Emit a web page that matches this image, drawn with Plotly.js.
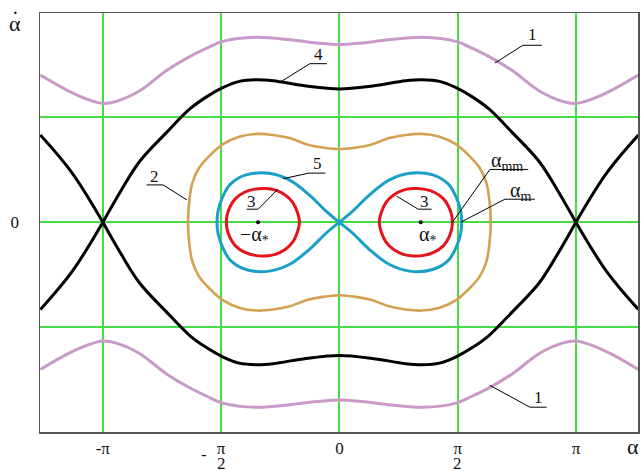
<!DOCTYPE html>
<html>
<head>
<meta charset="utf-8">
<script src="https://cdn.plot.ly/plotly-3.0.1.min.js"></script>
<style>html,body{margin:0;padding:0;background:#fff}</style>
</head>
<body>
<div id="chart" style="width:641px;height:471px"></div>
<script>
const PI = Math.PI;

// Axis ticks (the π/2 labels are drawn as fractions: numerator on the tick, denominator below)
const xTickVals = [-PI, -PI / 2, 0, PI / 2, PI];
const xTickText = ['-π', 'π', '0', 'π', 'π'];
const xTickSign = ['', '-', '', '', ''];
const xTickDen = ['', '2', '', '2', ''];
const yTickVals = [0];
const yTickText = ['0'];
const yGridVals = [-1, 1];

// Curve 1: rotational orbits (upper branch, α̇ > 0)
const c1X = [-3.97, -3.6, -3.31, -3.14, -2.96, -2.65, -2.3, -2.0, -1.76, -1.55, -1.1, -0.65, -0.3, 0, 0.3, 0.65, 1.1, 1.55, 1.76, 2.0, 2.3, 2.65, 2.96, 3.14, 3.31, 3.6, 3.97];
const c1Y = [1.40, 1.25, 1.16, 1.13, 1.15, 1.25, 1.44, 1.57, 1.655, 1.72, 1.76, 1.735, 1.705, 1.69, 1.705, 1.735, 1.76, 1.72, 1.655, 1.57, 1.44, 1.25, 1.15, 1.13, 1.16, 1.25, 1.40];

// Curve 4: separatrix through the saddles at ±π (upper arc and outer branches)
const c4ArcX = [-3.14, -2.9, -2.65, -2.3, -1.99, -1.77, -1.55, -1.33, -1.1, -0.88, -0.44, 0, 0.44, 0.88, 1.1, 1.33, 1.55, 1.77, 1.99, 2.3, 2.65, 2.9, 3.14];
const c4ArcY = [0, 0.30, 0.58, 0.85, 1.075, 1.19, 1.28, 1.34, 1.355, 1.345, 1.295, 1.267, 1.295, 1.345, 1.355, 1.34, 1.28, 1.19, 1.075, 0.85, 0.58, 0.30, 0];
const c4LeftX = [-3.97, -3.55, -3.14];
const c4LeftY = [0.83, 0.47, 0];
const c4RightX = [3.14, 3.55, 3.97];
const c4RightY = [0, 0.47, 0.83];

// Curve 2: closed orbit around both centres (upper half)
const c2X = [-2.01, -1.99, -1.95, -1.86, -1.74, -1.55, -1.32, -1.09, -0.88, -0.66, -0.43, -0.22, 0, 0.22, 0.43, 0.66, 0.88, 1.09, 1.32, 1.55, 1.74, 1.86, 1.95, 1.99, 2.01];
const c2Y = [0, 0.22, 0.38, 0.52, 0.62, 0.74, 0.815, 0.84, 0.83, 0.80, 0.74, 0.71, 0.695, 0.71, 0.74, 0.80, 0.83, 0.84, 0.815, 0.74, 0.62, 0.52, 0.38, 0.22, 0];

// Curve 5: figure-eight separatrix through the origin (upper halves of each lobe)
const c5RightX = [0, 0.17, 0.40, 0.66, 0.93, 1.24, 1.45, 1.55, 1.61, 1.625];
const c5RightY = [0, 0.10, 0.26, 0.40, 0.465, 0.45, 0.36, 0.24, 0.11, 0];
const c5LeftX = [0, -0.17, -0.40, -0.66, -0.93, -1.24, -1.45, -1.55, -1.61, -1.625];
const c5LeftY = [0, 0.10, 0.26, 0.40, 0.465, 0.45, 0.36, 0.24, 0.11, 0];

// Curve 3: small orbits around ±α* (upper halves)
const c3RightX = [0.53, 0.56, 0.62, 0.72, 0.85, 0.98, 1.12, 1.26, 1.38, 1.45, 1.49, 1.50];
const c3RightY = [0, 0.10, 0.19, 0.26, 0.305, 0.32, 0.315, 0.285, 0.225, 0.15, 0.07, 0];
const c3LeftX = [-1.50, -1.49, -1.45, -1.38, -1.26, -1.12, -0.98, -0.85, -0.72, -0.62, -0.56, -0.53];
const c3LeftY = [0, 0.07, 0.15, 0.225, 0.285, 0.315, 0.32, 0.305, 0.26, 0.19, 0.10, 0];

// Equilibria ±α*
const alphaStarX = [-1.08, 1.08];
const alphaStarY = [0, 0];

// ---- helpers -------------------------------------------------------------
const neg = a => a.map(v => -v);
const rev = a => a.slice().reverse();

// closed orbit: upper half forward, mirrored lower half back
function loop(xs, ys) {
  return { x: xs.concat(rev(xs).slice(1)), y: ys.concat(rev(neg(ys)).slice(1)) };
}
// join several polylines with gaps
function join(parts) {
  const x = [], y = [];
  parts.forEach((p, i) => {
    if (i) { x.push(null); y.push(null); }
    x.push(...p.x); y.push(...p.y);
  });
  return { x, y };
}

const COL = {
  grid: '#45dc45',
  pink: '#c999c9',
  black: '#000000',
  orange: '#d4a052',
  blue: '#1aa0c6',
  red: '#e3141c'
};
const FONT = 'Liberation Serif, Times New Roman, serif';

const c1 = join([{ x: c1X, y: c1Y }, { x: c1X, y: neg(c1Y) }]);
const c4 = join([
  { x: c4ArcX, y: c4ArcY }, { x: c4ArcX, y: neg(c4ArcY) },
  { x: c4LeftX, y: c4LeftY }, { x: c4LeftX, y: neg(c4LeftY) },
  { x: c4RightX, y: c4RightY }, { x: c4RightX, y: neg(c4RightY) }
]);
const c2 = loop(c2X, c2Y);
const c5r = loop(c5RightX, c5RightY);
const c5l = loop(c5LeftX, c5LeftY);
const c5 = { x: c5r.x.concat(c5l.x.slice(1)), y: c5r.y.concat(c5l.y.slice(1)) };
const c3 = join([loop(c3RightX, c3RightY), loop(c3LeftX, c3LeftY)]);

function curve(d, color, width) {
  return {
    type: 'scatter', mode: 'lines', x: d.x, y: d.y,
    line: { color: color, width: width, shape: 'spline', smoothing: 1 },
    connectgaps: false, hoverinfo: 'skip', showlegend: false
  };
}

const traces = [
  curve(c1, COL.pink, 3),
  curve(c4, COL.black, 3),
  curve(c2, COL.orange, 2.6),
  curve(c5, COL.blue, 3),
  curve(c3, COL.red, 3),
  {
    type: 'scatter', mode: 'markers', x: alphaStarX, y: alphaStarY,
    marker: { color: '#000', size: 4 }, hoverinfo: 'skip', showlegend: false
  }
];

// Numbered callouts: label, label centre, underline, leader to the curve
const callouts = [
  { t: '1', tx: 2.57, ty: 1.784, u: [2.437, 2.689, 1.683], tip: [2.065, 1.514], end: 0 },
  { t: '1', tx: 2.64, ty: -1.664, u: [2.530, 2.752, -1.759], tip: [1.999, -1.552], end: 0 },
  { t: '4', tx: -0.282, ty: 1.593, u: [-0.392, -0.166, 1.508], tip: [-0.768, 1.340], end: 0 },
  { t: '5', tx: -0.292, ty: 0.557, u: [-0.405, -0.186, 0.467], tip: [-0.750, 0.414], end: 0 },
  { t: '3', tx: -1.166, ty: 0.193, u: [-1.232, -1.078, 0.124], tip: [-0.817, 0.314], end: 1 },
  { t: '3', tx: 1.135, ty: 0.193, u: [1.046, 1.224, 0.124], tip: [0.760, 0.248], end: 0 },
  { t: '2', tx: -2.45, ty: 0.435, u: [-2.560, -2.340, 0.355], tip: [-2.025, 0.212], end: 1 },
  { t: 'α<sub>mm</sub>', tx: 2.22, ty: 0.575, u: [1.999, 2.507, 0.502], tip: [1.50, 0], end: 0 },
  { t: 'α<sub>m</sub>', tx: 2.40, ty: 0.295, u: [2.198, 2.596, 0.219], tip: [1.612, 0], end: 0 }
];

const shapes = [];
// black verticals at ±π
[-PI, PI].forEach(v => shapes.push({
  type: 'line', xref: 'x', yref: 'paper', x0: v, x1: v, y0: 0, y1: 1,
  layer: 'between', line: { color: '#222', width: 1.5 }
}));
callouts.forEach(c => {
  shapes.push({ type: 'line', xref: 'x', yref: 'y', x0: c.u[0], x1: c.u[1], y0: c.u[2], y1: c.u[2],
    line: { color: '#000', width: 1 } });
  const sx = c.end ? c.u[1] : c.u[0];
  shapes.push({ type: 'line', xref: 'x', yref: 'y', x0: sx, y0: c.u[2], x1: c.tip[0], y1: c.tip[1],
    line: { color: '#000', width: 1 } });
});

const txt = (size) => ({ family: FONT, size: size, color: '#111' });
const annotations = callouts.map(c => ({
  x: c.tx, y: c.ty, xref: 'x', yref: 'y', text: c.t, showarrow: false,
  xanchor: 'center', yanchor: 'middle', font: txt(c.t.length > 1 ? 20 : 17)
}));
annotations.push(
  { x: -1.122, y: -0.124, xref: 'x', yref: 'y', text: '−α<sub>*</sub>', showarrow: false, font: txt(20) },
  { x: 1.175, y: -0.124, xref: 'x', yref: 'y', text: 'α<sub>*</sub>', showarrow: false, font: txt(20) },
  // axis names: α̇ (dot drawn above) and α
  { x: -0.042, y: 0.974, xref: 'paper', yref: 'paper', text: 'α', showarrow: false,
    xanchor: 'center', yanchor: 'middle', font: txt(22) },
  { x: -0.041, y: 1.0, xref: 'paper', yref: 'paper', text: '·', showarrow: false,
    xanchor: 'center', yanchor: 'middle', font: txt(20) },
  { x: 0.992, y: -0.035, xref: 'paper', yref: 'paper', text: 'α', showarrow: false,
    xanchor: 'center', yanchor: 'middle', font: txt(22) }
);
// fraction parts of the π/2 tick labels
xTickVals.forEach((v, i) => {
  if (xTickSign[i]) annotations.push({ x: v, y: -0.053, xref: 'x', yref: 'paper', xshift: -17,
    text: xTickSign[i], showarrow: false, xanchor: 'center', yanchor: 'middle', font: txt(17) });
  if (xTickDen[i]) annotations.push({ x: v, y: -0.074, xref: 'x', yref: 'paper',
    text: xTickDen[i], showarrow: false, xanchor: 'center', yanchor: 'middle', font: txt(17) });
});

const layout = {
  width: 641, height: 471,
  margin: { l: 40, r: 3, t: 13, b: 39 },
  paper_bgcolor: '#fff', plot_bgcolor: '#fff',
  font: { family: FONT, size: 17, color: '#111' },
  xaxis: {
    range: [-3.975, 3.965], tickmode: 'array', tickvals: xTickVals, ticktext: xTickText,
    showgrid: true, gridcolor: COL.grid, gridwidth: 2, zeroline: false,
    showline: true, mirror: true, linecolor: '#555', linewidth: 1.5,
    ticks: '', tickfont: txt(17), fixedrange: true
  },
  yaxis: {
    range: [-1.995, 1.99], tickmode: 'array', tickvals: yTickVals, ticktext: yTickText,
    showgrid: true, gridcolor: COL.grid, gridwidth: 2, zeroline: false,
    minor: { tickmode: 'array', tickvals: yGridVals, showgrid: true, gridcolor: COL.grid, gridwidth: 2, ticks: '' },
    showline: true, mirror: true, linecolor: '#555', linewidth: 1.5,
    ticks: '', ticklabelstandoff: 16, tickfont: txt(17), fixedrange: true
  },
  shapes: shapes,
  annotations: annotations,
  showlegend: false
};

Plotly.newPlot('chart', traces, layout, { staticPlot: true, displayModeBar: false });
</script>
</body>
</html>
